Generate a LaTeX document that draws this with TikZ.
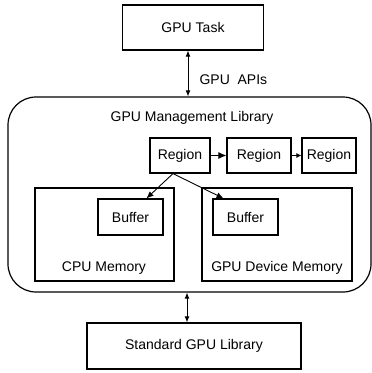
\documentclass[tikz,border=0pt]{standalone}
\usepackage{fontspec}
\setmainfont{Liberation Sans}
\usetikzlibrary{arrows.meta}
\tikzset{
  box/.style={draw, line width=1.2pt, inner sep=0pt},
  link/.style={{Latex[length=6pt,width=5pt]}-{Latex[length=6pt,width=5pt]}, line width=0.9pt},
  flow/.style={-{Latex[length=7pt,width=6pt]}, line width=0.9pt},
}
\begin{document}
\begin{tikzpicture}[x=1pt, y=-1pt, font=\fontsize{14}{16}\selectfont]
	\useasboundingbox (0,0) rectangle (372,373);

	\node [box, minimum width=141pt, minimum height=45pt] (task) at (193,27.5) {GPU Task};
	\node [box, rounded corners=28pt, minimum width=363pt, minimum height=195pt] (lib) at (189.5,194.5) {};
	\node (libtitle) at (192,118) {GPU Management Library};

	\draw [link] ([xshift=-5pt]task.south) -- ([xshift=-5pt]task.south |- lib.north);
	\node [right] (apis) at (196,80) {GPU\ \ APIs};

	\node [box, minimum width=60pt, minimum height=35pt] (r1) at (180,155.5) {Region};
	\node [box, minimum width=64pt, minimum height=35pt] (r2) at (259,155.5) {Region};
	\node [box, minimum width=54pt, minimum height=35pt] (r3) at (329,155.5) {Region};
	\draw [flow, -{Latex[length=8pt,width=7pt]}] (r1) -- (r2);
	\draw [flow, -{Latex[length=5pt,width=5pt]}] (r2) -- (r3);

	\node [box, minimum width=139pt, minimum height=93pt] (cpumem) at (104.5,234.5) {};
	\node [box, minimum width=150pt, minimum height=93pt] (gpumem) at (277,234.5) {};
	\node (cpulabel) at (104,268) {CPU Memory};
	\node (gpulabel) at (277,268) {GPU Device Memory};

	\node [box, minimum width=65pt, minimum height=36pt] (cbuf) at (130.5,217) {Buffer};
	\node [box, minimum width=65pt, minimum height=36pt] (gbuf) at (245.5,217) {Buffer};
	\draw [flow] ([xshift=-7pt]r1.south) -- ([xshift=16pt]cbuf.north);
	\draw [flow] ([xshift=-7pt]r1.south) -- ([xshift=-22pt]gbuf.north);

	\node [box, minimum width=214pt, minimum height=46pt] (std) at (194,346) {Standard GPU Library};
	\draw [link] ([xshift=-7pt]std.north) -- ([xshift=-7pt]std.north |- lib.south);
\end{tikzpicture}
\end{document}
